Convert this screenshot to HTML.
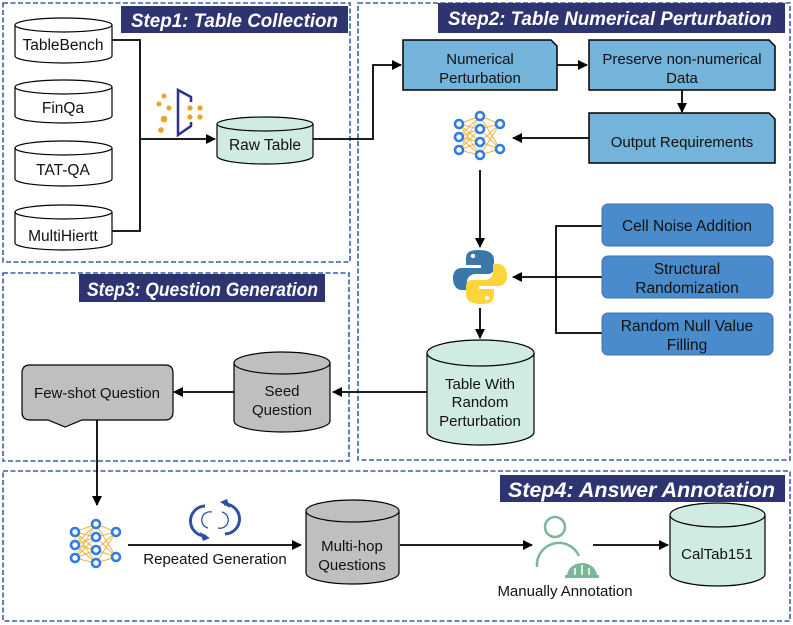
<!DOCTYPE html>
<html><head><meta charset="utf-8"><style>
html,body{margin:0;padding:0;background:#fff;}
svg{display:block;font-family:"Liberation Sans",Arial,sans-serif;}
</style></head><body>
<svg width="793" height="625" viewBox="0 0 793 625" xmlns="http://www.w3.org/2000/svg">
<defs>
<marker id="ar" markerWidth="10" markerHeight="10" refX="9" refY="5" orient="auto" markerUnits="userSpaceOnUse"><path d="M0,0 L10,5 L0,10 Z" fill="#000"/></marker>
<g id="nn">
 <g stroke="#f2b53a" stroke-width="1">
  <path d="M-21,-13 L0,-21 M-21,-13 L0,-8 M-21,-13 L0,5 M-21,-13 L0,18 M-21,0 L0,-21 M-21,0 L0,-8 M-21,0 L0,5 M-21,0 L0,18 M-21,13 L0,-21 M-21,13 L0,-8 M-21,13 L0,5 M-21,13 L0,18"/>
  <path d="M20,-13 L0,-21 M20,-13 L0,-8 M20,-13 L0,5 M20,-13 L0,18 M20,12 L0,-21 M20,12 L0,-8 M20,12 L0,5 M20,12 L0,18"/>
 </g>
 <g fill="#fff" stroke="#2f7de1" stroke-width="2.6">
  <circle cx="-21" cy="-13" r="4"/><circle cx="-21" cy="0" r="4"/><circle cx="-21" cy="13" r="4"/>
  <circle cx="0" cy="-21" r="4"/><circle cx="0" cy="-8" r="4"/><circle cx="0" cy="5" r="4"/><circle cx="0" cy="18" r="4"/>
  <circle cx="20" cy="-13" r="4"/><circle cx="20" cy="12" r="4"/>
 </g>
</g>
</defs>

<g fill="none" stroke="#3a5ea8" stroke-width="1.6" stroke-dasharray="5,2.5">
 <rect x="3" y="3" width="347" height="259"/>
 <rect x="358" y="3" width="432" height="457"/>
 <rect x="3" y="273" width="346" height="188"/>
 <rect x="3" y="471" width="787" height="150"/>
</g>
<g fill="#2e3470">
 <rect x="121" y="6" width="227" height="27"/>
 <rect x="438" y="3" width="347" height="30"/>
 <rect x="79" y="274" width="246" height="28"/>
 <rect x="500" y="475" width="285" height="27"/>
</g>
<g fill="#fff" font-weight="bold" font-style="italic" font-size="19">
 <text x="131" y="27" textLength="207" lengthAdjust="spacingAndGlyphs">Step1: Table Collection</text>
 <text x="448" y="25" textLength="324" lengthAdjust="spacingAndGlyphs">Step2: Table Numerical Perturbation</text>
 <text x="87" y="296" textLength="231" lengthAdjust="spacingAndGlyphs">Step3: Question Generation</text>
 <text x="508" y="497" font-size="21" textLength="267" lengthAdjust="spacingAndGlyphs">Step4: Answer Annotation</text>
</g>

<g stroke="#000" stroke-width="1.2" fill="#fff">
 <path d="M15,25 V56 A48.5,7 0 0 0 112,56 V25"/><ellipse cx="63.5" cy="25" rx="48.5" ry="7"/>
 <path d="M15,87 V116 A48.5,7 0 0 0 112,116 V87"/><ellipse cx="63.5" cy="87" rx="48.5" ry="7"/>
 <path d="M15,148 V179 A48.5,7 0 0 0 112,179 V148"/><ellipse cx="63.5" cy="148" rx="48.5" ry="7"/>
 <path d="M15,212 V243 A48.5,7 0 0 0 112,243 V212"/><ellipse cx="63.5" cy="212" rx="48.5" ry="7"/>
 <path d="M217,124 V156 A48,8 0 0 0 313,156 V124" fill="#d0ece0"/><ellipse cx="265" cy="124" rx="48" ry="7" fill="#d0ece0"/>
</g>
<g font-size="15.5" text-anchor="middle" fill="#111">
 <text x="63" y="50">TableBench</text>
 <text x="63" y="113">FinQa</text>
 <text x="63" y="175">TAT-QA</text>
 <text x="63" y="241">MultiHiertt</text>
 <text x="265" y="150">Raw Table</text>
</g>
<g fill="none" stroke="#000" stroke-width="1.8">
 <path d="M112,40 H140 V231 H112"/>
 <path d="M140,139 H215" marker-end="url(#ar)"/>
 <path d="M313,139 H373 V65 H401" marker-end="url(#ar)"/>
</g>
<g fill="#f4a020">
 <circle cx="164" cy="96" r="2.5"/><circle cx="159" cy="104" r="2.5"/><circle cx="169" cy="108" r="2.5"/>
 <circle cx="164" cy="119" r="3.3"/><circle cx="161" cy="130" r="2.8"/>
 <circle cx="190" cy="108" r="2.6"/><circle cx="200" cy="108" r="2.6"/><circle cx="190" cy="117" r="2.6"/><circle cx="200" cy="117" r="2.6"/>
</g>
<path d="M191,102 V97 L178,90 V135 L191,126 V122" fill="none" stroke="#2e3190" stroke-width="2.5"/>

<g stroke="#000" stroke-width="1.5" fill="#74b3da">
 <path d="M403,40 H551 L557,46 V90 H403 Z"/>
 <path d="M589,40 H769 L775,46 V90 H589 Z"/>
 <path d="M589,113 H769 L775,119 V163 H589 Z"/>
</g>
<g font-size="15" text-anchor="middle" fill="#111">
 <text x="480" y="64">Numerical</text><text x="480" y="83">Perturbation</text>
 <text x="682" y="64">Preserve non-numerical</text><text x="682" y="83">Data</text>
 <text x="682" y="147">Output Requirements</text>
</g>
<g fill="none" stroke="#000" stroke-width="1.8">
 <path d="M557,65 H587" marker-end="url(#ar)"/>
 <path d="M682,90 V112" marker-end="url(#ar)"/>
 <path d="M589,138 H513" marker-end="url(#ar)"/>
 <path d="M480,170 V247" marker-end="url(#ar)"/>
 <path d="M602,226 H556 V333 H602 M602,277 H513" marker-end="url(#ar)"/>
 <path d="M480,308 V338" marker-end="url(#ar)"/>
 <path d="M427,392 H333" marker-end="url(#ar)"/>
 <path d="M234,392 H174" marker-end="url(#ar)"/>
 <path d="M97,420 V505" marker-end="url(#ar)"/>
</g>
<use href="#nn" x="480" y="137"/>
<g transform="translate(480,277)">
 <path d="M-1,-27 C-14,-27 -14,-22 -14,-17 V-12 H1 V-9 H-18 C-26,-9 -27,-2 -27,1 C-27,10 -22,13 -18,13 H-13 V5 C-13,0 -9,-3 -4,-3 H8 C12,-3 14,-6 14,-10 V-17 C14,-24 8,-27 -1,-27 Z" fill="#3b77a8"/>
 <circle cx="-7" cy="-21" r="2.2" fill="#fff"/>
 <path d="M1,27 C14,27 14,22 14,17 V12 H-1 V9 H18 C26,9 27,2 27,-1 C27,-10 22,-13 18,-13 H13 V-5 C13,0 9,3 4,3 H-8 C-12,3 -14,6 -14,10 V17 C-14,24 -8,27 1,27 Z" fill="#fdd43a"/>
 <circle cx="7" cy="21" r="2.2" fill="#fff"/>
</g>
<g fill="#4a8bcb" stroke="#3b72b5" stroke-width="1">
 <rect x="602" y="204" width="171" height="42" rx="6"/>
 <rect x="602" y="256" width="171" height="42" rx="6"/>
 <rect x="602" y="313" width="171" height="42" rx="6"/>
</g>
<g font-size="15.5" text-anchor="middle" fill="#111">
 <text x="687" y="231">Cell Noise Addition</text>
 <text x="687" y="274">Structural</text><text x="687" y="293">Randomization</text>
 <text x="687" y="331">Random Null Value</text><text x="687" y="350">Filling</text>
</g>
<g stroke="#000" stroke-width="1.2" fill="#d0ece0">
 <path d="M427,353 V432 A53.5,13 0 0 0 534,432 V353"/><ellipse cx="480.5" cy="353" rx="53.5" ry="13"/>
</g>
<g font-size="15" text-anchor="middle" fill="#111">
 <text x="480" y="389">Table With</text><text x="480" y="407">Random</text><text x="480" y="426">Perturbation</text>
</g>
<g stroke="#000" stroke-width="1.2" fill="#bfbfbf">
 <path d="M234,363 V421 A48,11 0 0 0 330,421 V363"/><ellipse cx="282" cy="363" rx="48" ry="11"/>
</g>
<g font-size="15" text-anchor="middle" fill="#111">
 <text x="282" y="396">Seed</text><text x="282" y="415">Question</text>
</g>
<path d="M30,365 H165 Q173,365 173,373 V412 Q173,420 165,420 H82 L65,427 L48,420 H30 Q22,420 22,412 V373 Q22,365 30,365 Z" fill="#bfbfbf" stroke="#000" stroke-width="1.2"/>
<text x="97" y="398" font-size="15" text-anchor="middle" fill="#111">Few-shot Question</text>

<use href="#nn" x="96" y="545"/>
<g fill="none" stroke="#000" stroke-width="1.8">
 <path d="M128,545 H301" marker-end="url(#ar)"/>
 <path d="M400,545 H532" marker-end="url(#ar)"/>
 <path d="M593,545 H668" marker-end="url(#ar)"/>
</g>
<g fill="none" stroke="#2f4fa0" stroke-width="3">
 <path d="M206,536 A15,15 0 0 1 205,506"/>
 <path d="M224,504 A15,15 0 0 1 225,534"/>
 <path d="M208,528 A8,8 0 0 1 212,512 M222,512 A8,8 0 0 1 218,528" stroke-width="1.3"/>
</g>
<path d="M200,532 L210,538 L203,541 Z M230,508 L220,502 L227,499 Z" fill="#2f4fa0"/>
<text x="215" y="564" font-size="15" text-anchor="middle" fill="#111">Repeated Generation</text>
<g stroke="#000" stroke-width="1.2" fill="#bfbfbf">
 <path d="M306,511 V573 A46.5,11 0 0 0 399,573 V511"/><ellipse cx="352.5" cy="511" rx="46.5" ry="11"/>
</g>
<g font-size="15" text-anchor="middle" fill="#111">
 <text x="352" y="551">Multi-hop</text><text x="352" y="570">Questions</text>
</g>
<g fill="none" stroke="#7db598" stroke-width="2.5">
 <circle cx="555" cy="527" r="10"/>
 <path d="M537,567 A22,22 0 0 1 579,556"/>
</g>
<path d="M567,576 A15,13 0 0 1 597,576 Z" fill="#7db598"/>
<path d="M582,565 V576 M575,568 V576 M589,568 V576" stroke="#fff" stroke-width="1.5"/>
<rect x="565" y="575" width="34" height="3" fill="#7db598"/>
<text x="565" y="596" font-size="15" text-anchor="middle" fill="#111">Manually Annotation</text>
<g stroke="#000" stroke-width="1.2" fill="#d0ece0">
 <path d="M670,515 V574 A47.5,12 0 0 0 765,574 V515"/><ellipse cx="717.5" cy="515" rx="47.5" ry="12"/>
</g>
<text x="717" y="559" font-size="15" text-anchor="middle" fill="#111">CalTab151</text>
</svg>
</body></html>
